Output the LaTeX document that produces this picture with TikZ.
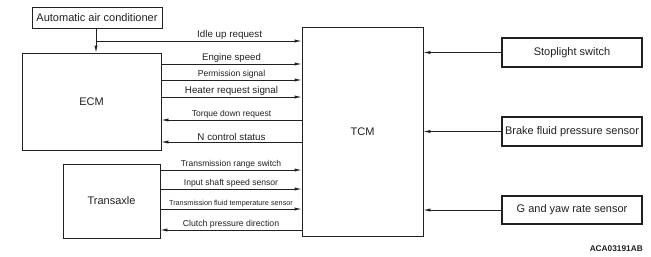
\documentclass[tikz,border=0pt]{standalone}
\usepackage{fontspec}
\setmainfont{Liberation Sans}
\usetikzlibrary{arrows.meta}
\definecolor{ink}{HTML}{231F20}
\begin{document}
\begin{tikzpicture}[x=1pt,y=-1pt,
  box/.style={draw=ink,line width=0.8pt,inner sep=0pt,font=\fontsize{11}{13}\selectfont,text=ink},
  thick box/.style={box,line width=2pt},
  arr/.style={draw=ink,line width=0.8pt,-{Latex[length=7pt,width=3.2pt]}},
  lbl/.style={midway,above,inner sep=1.2pt,text=ink}]
\useasboundingbox (0,0) rectangle (651,257);
\node[box,minimum width=130pt,minimum height=21pt] (AAC) at (97,17.5) {Automatic air conditioner};
\node[box,minimum width=139pt,minimum height=97pt] (ECM) at (91.5,101.5) {ECM};
\node[box,minimum width=97pt,minimum height=74pt] (TA) at (111.5,201) {Transaxle};
\node[box,minimum width=121pt,minimum height=209pt] (TCM) at (362.5,131.5) {TCM};
\node[thick box,minimum width=140pt,minimum height=29pt] (SL) at (572,52.5) {Stoplight switch};
\node[thick box,minimum width=140pt,minimum height=29pt] (BF) at (572,131.5) {Brake fluid pressure sensor};
\node[thick box,minimum width=140pt,minimum height=28pt] (GY) at (572,210) {G and yaw rate sensor};
% AAC to ECM, idle up
\draw[arr] (AAC.south -| 96,0) -- (ECM.north -| 96,0);
\coordinate (j) at (96,41);
\draw[arr] (j) -- (TCM.west |- j) node[lbl,pos=0.65,font=\fontsize{9.8}{11}\selectfont] {Idle up request};
% ECM <-> TCM
\draw[arr] (ECM.east |- 0,64) -- (TCM.west |- 0,64) node[lbl,font=\fontsize{9.6}{11}\selectfont] {Engine speed};
\draw[arr] (ECM.east |- 0,80) -- (TCM.west |- 0,80) node[lbl,font=\fontsize{8.6}{10}\selectfont] {Permission signal};
\draw[arr] (ECM.east |- 0,97) -- (TCM.west |- 0,97) node[lbl,font=\fontsize{9.8}{11}\selectfont] {Heater request signal};
\draw[arr] (TCM.west |- 0,120) -- (ECM.east |- 0,120) node[lbl,font=\fontsize{8.5}{10}\selectfont] {Torque down request};
\draw[arr] (TCM.west |- 0,142) -- (ECM.east |- 0,142) node[lbl,font=\fontsize{9.8}{11}\selectfont] {N control status};
% Transaxle <-> TCM
\draw[arr] (TA.east |- 0,170) -- (TCM.west |- 0,170) node[lbl,font=\fontsize{8.5}{10}\selectfont] {Transmission range switch};
\draw[arr] (TA.east |- 0,189) -- (TCM.west |- 0,189) node[lbl,font=\fontsize{8.6}{10}\selectfont] {Input shaft speed sensor};
\draw[arr] (TA.east |- 0,209) -- (TCM.west |- 0,209) node[lbl,font=\fontsize{7.3}{9}\selectfont] {Transmission fluid temperature sensor};
\draw[arr] (TCM.west |- 0,230) -- (TA.east |- 0,230) node[lbl,font=\fontsize{8.7}{10}\selectfont] {Clutch pressure direction};
% sensors to TCM
\draw[arr] (SL.west) -- (TCM.east |- SL.west);
\draw[arr] (BF.west) -- (TCM.east |- BF.west);
\draw[arr] (GY.west) -- (TCM.east |- GY.west);
\node[anchor=east,inner sep=0pt,text=ink,font=\fontsize{8.3}{10}\selectfont\bfseries] (ref) at (643,249) {ACA03191AB};
\end{tikzpicture}
\end{document}
